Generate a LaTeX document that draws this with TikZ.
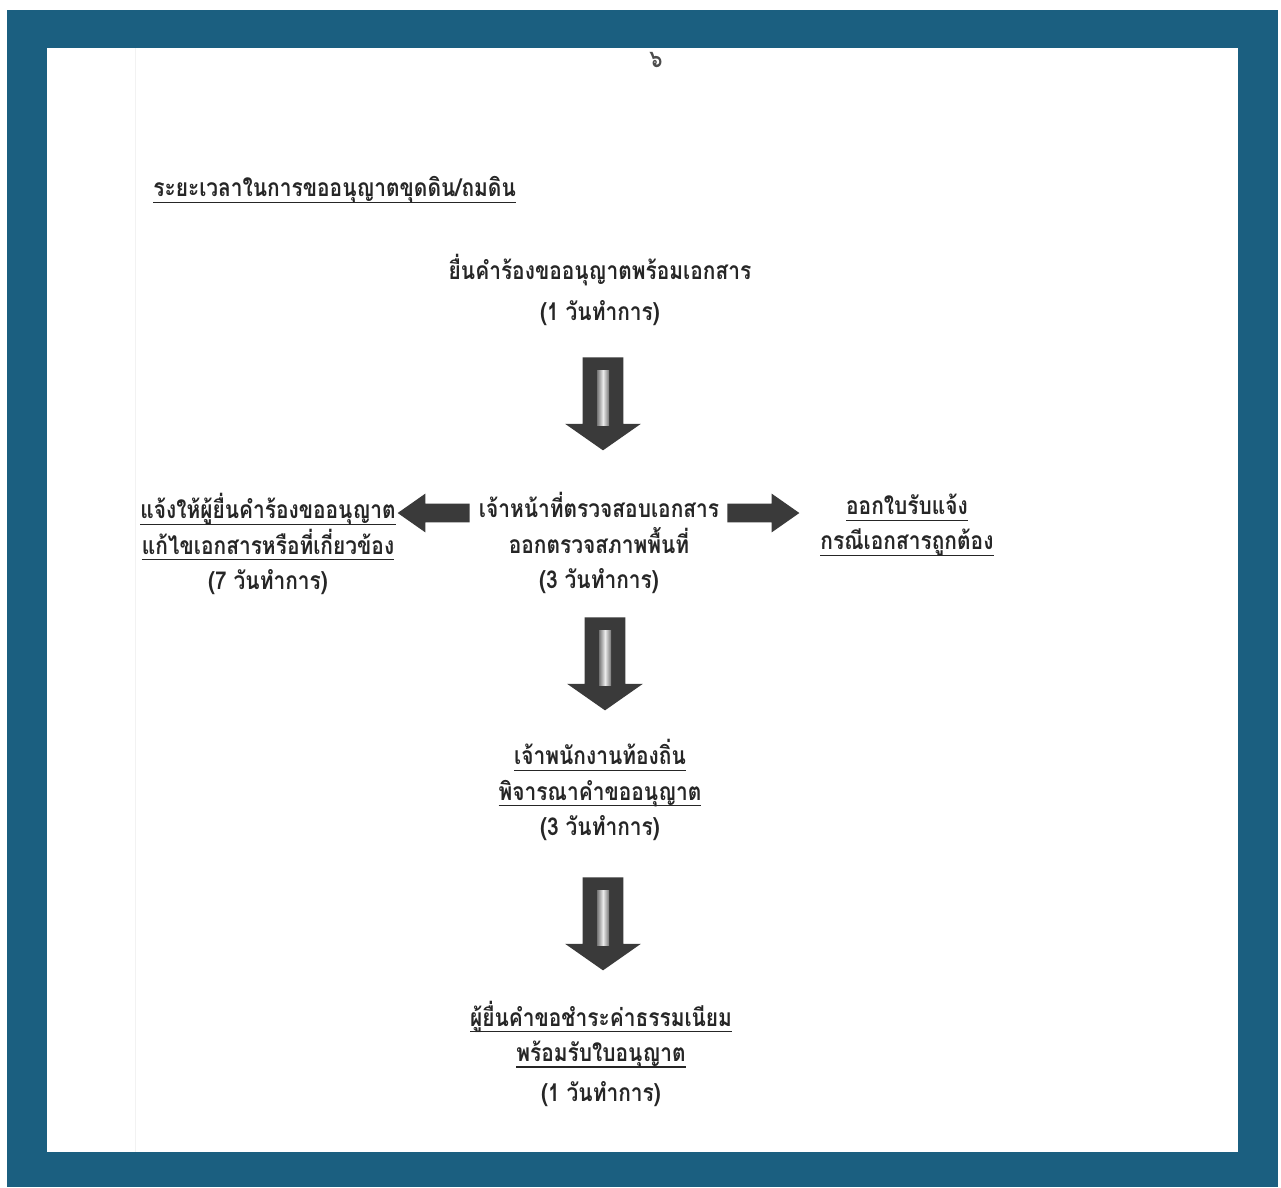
\documentclass[tikz,border=0pt]{standalone}
\usepackage{fontspec}
\newfontfamily\thaifont[Script=Thai,FakeStretch=0.85]{Loma}
\usetikzlibrary{shapes.arrows, positioning, calc}
\definecolor{framebl}{HTML}{1B5F80}
\definecolor{arrowgray}{HTML}{3A3A3A}
\newcommand{\thul}[1]{\setbox0\hbox{#1}\rlap{\rule[-3.5pt]{\wd0}{0.7pt}}\box0}

\begin{document}
\begin{tikzpicture}
		[   x=0.02cm, y=-0.02cm,
			txt/.style={font=\thaifont\bfseries\fontsize{14}{20}\selectfont,text=black!85,align=center,inner sep=0pt},
			bigarrow/.style={single arrow,fill=arrowgray,draw=none,inner xsep=0pt,single arrow head indent=0pt,anchor=tail},
			stripe/.style={left color=arrowgray!70,right color=arrowgray!70,middle color=gray!15},
		]
		\tikzset{down arrow/.style={bigarrow,rotate=-90,inner ysep=0.4cm,minimum height=1.86cm,single arrow head extend=0.35cm,single arrow tip angle=110}}
		\tikzset{side arrow/.style={bigarrow,inner ysep=0.18cm,minimum height=1.44cm,single arrow head extend=0.2cm,single arrow tip angle=70}}
		
		% frame and page
		\useasboundingbox (0,0) rectangle (1281,1187);
		\fill[white] (0,0) rectangle (1281,1187);
		\fill[framebl] (7,10) rectangle (1278,1187);
		\fill[white] (47,48) rectangle (1238,1152);
		\draw[gray!10] (135,48) -- (135,1152);
		
		\begin{scope}
		\clip (47,48) rectangle (1238,1152);
		\node[txt,text=black!70] (pgnum) at (656,60) {๖};
		\end{scope}
		
		\node[txt,anchor=west] (title) at (153,190) {\thul{ระยะเวลาในการขออนุญาตขุดดิน/ถมดิน}};
		
		\node[txt] (submit) at (600,290) {ยื่นคำร้องขออนุญาตพร้อมเอกสาร\\[3pt](1 วันทำการ)};
		
		\node[txt] (check) at (599,543) {เจ้าหน้าที่ตรวจสอบเอกสาร\\ออกตรวจสภาพพื้นที่\\(3 วันทำการ)};
		
		\node[txt] (notify) at (268,544) {\thul{แจ้งให้ผู้ยื่นคำร้องขออนุญาต}\\\thul{แก้ไขเอกสารหรือที่เกี่ยวข้อง}\\(7 วันทำการ)};
		
		\node[txt] (receipt) at (907,525) {\thul{ออกใบรับแจ้ง}\\\thul{กรณีเอกสารถูกต้อง}};
		
		\node[txt] (officer) at (600,790) {\thul{เจ้าพนักงานท้องถิ่น}\\\thul{พิจารณาคำขออนุญาต}\\(3 วันทำการ)};
		
		\node[txt] (pay) at (601,1054) {\thul{ผู้ยื่นคำขอชำระค่าธรรมเนียม}\\\thul{พร้อมรับใบอนุญาต}\\[3pt](1 วันทำการ)};
		
		% block arrows
		\foreach \x/\y/\n in {603/357/1,605/617/2,603/877/3}
		{
			\node[down arrow] (dn-\n) at (\x,\y) {};
			\fill[stripe] ($(dn-\n.tail)+(-6,13)$) rectangle ($(dn-\n.tail)+(6,68)$);
		}
		
		\node[side arrow,rotate=180] (lt) at (470,513) {};
		\node[side arrow] (rt) at (727,513) {};
		\end{tikzpicture}
\end{document}
